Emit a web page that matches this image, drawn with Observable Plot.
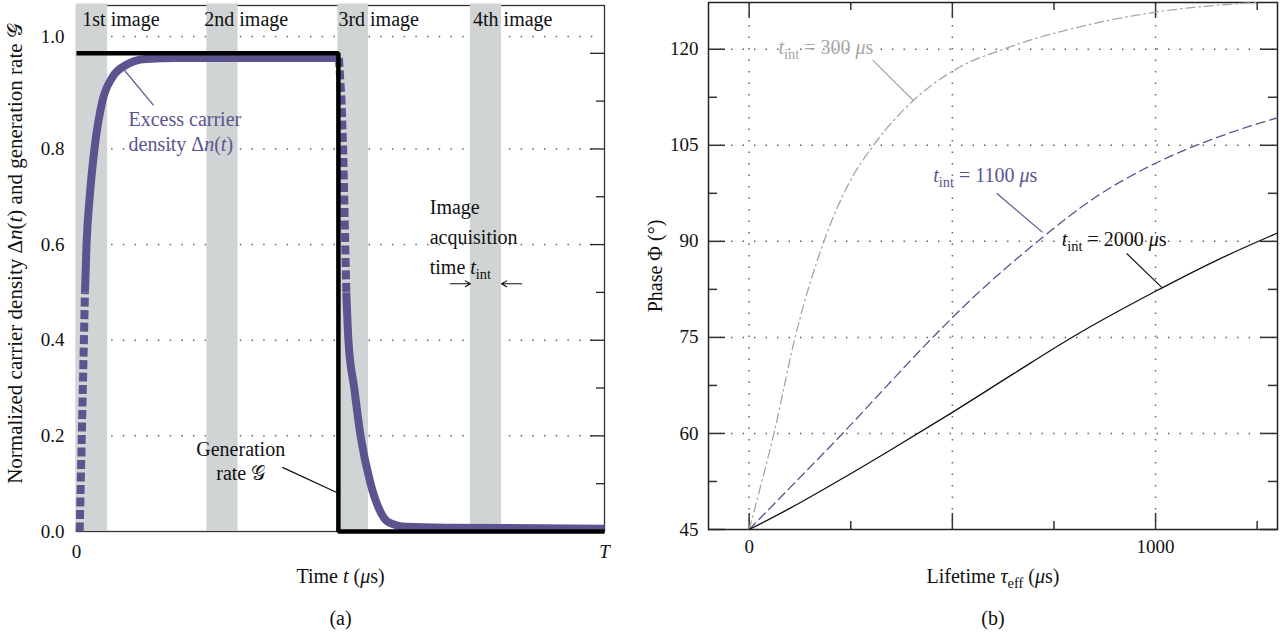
<!DOCTYPE html>
<html><head><meta charset="utf-8">
<script src="https://cdn.jsdelivr.net/npm/d3@7"></script>
<script src="https://cdn.jsdelivr.net/npm/@observablehq/plot@0.6"></script>
<style>
body{margin:0;background:#fff;width:1287px;height:642px;overflow:hidden;position:relative;}
#a{position:absolute;left:0;top:0}
#b{position:absolute;left:640px;top:0}
svg{overflow:visible}
</style></head><body>
<div id="a"></div><div id="b"></div>
<script>
// ---------- Panel (a) data ----------
const bandStart = [0, 0.247, 0.495, 0.746];
const bandEnd = [0.059, 0.306, 0.553, 0.805];
const bandLabels = ["1st image", "2nd image", "3rd image", "4th image"];
const bandLabelT = [0.011, 0.242, 0.496, 0.751];
const densT = [0.006,0.008,0.010,0.012,0.014,0.016,0.019,0.025,0.034,0.049,0.068,0.093,0.131,0.19,0.497,0.502,0.505,0.507,0.509,0.511,0.515,0.526,0.538,0.557,0.572,0.59,0.625,0.7,1.0];
const densN = [0,0.1,0.2,0.3,0.4,0.5,0.6,0.7,0.8,0.9,0.95,0.975,0.988,0.99,0.99,0.9,0.8,0.7,0.6,0.5,0.4,0.3,0.2,0.1,0.05,0.02,0.01,0.008,0.006];
const genT = [0, 0.496, 0.496, 1];
const genN = [1, 1, 0, 0];
const yDomainA = [0, 1.1];
const yTickPosA = [0, 0.2, 0.4, 0.6, 0.8, 1.035];
const yTickLabelsA = ["0.0", "0.2", "0.4", "0.6", "0.8", "1.0"];
const yGridA = [0.2, 0.4, 0.6, 0.8, 1.035];
const rightMajorA = [0.2, 0.4, 0.6, 0.8, 1.0];
const rightMinorA = [0.1, 0.3, 0.5, 0.7, 0.9];
const xTickPosA = [0, 1];
const xTickLabelsA = ["0", "*T*"];
const annTextA = ["Excess carrier\ndensity Δ*n*(*t*)", "Generation\nrate 𝒢", "Image\nacquisition\ntime *t*_{int}"];
const annTA = [0.0985, 0.311, 0.669];
const annNA = [0.838, 0.148, 0.622];
const leaderA_t1 = [0.089, 0.390], leaderA_n1 = [0.967, 0.134];
const leaderA_t2 = [0.146, 0.494], leaderA_n2 = [0.891, 0.081];
const arrowT1 = [0.708, 0.843], arrowT2 = [0.746, 0.805], arrowN = [0.518, 0.518];
const yLabelA = "Normalized carrier density Δ*n*(*t*) and generation rate 𝒢";
const xLabelA = "Time *t* (*μ*s)";
const captionA = "(a)";

// ---------- Panel (b) data ----------
const tau300 = [0, 30, 61, 113, 184, 245, 306, 404, 496, 643, 800, 1000, 1120, 1250];
const phi300 = [45, 52.2, 60, 75, 90, 99, 105, 112, 116.4, 120.4, 123.3, 125.8, 126.7, 127.3];
const tau1100 = [0, 100, 230, 340, 444, 544, 708, 850, 1000, 1150, 1300];
const phi1100 = [45, 51.5, 60, 67.5, 74.5, 80.8, 89.9, 96.8, 102.2, 106.2, 109.3];
const tau2000 = [0, 100, 225, 350, 495, 650, 797, 1000, 1149, 1300];
const phi2000 = [45, 48.3, 52.8, 57.5, 63.1, 69.3, 75.1, 82.2, 87, 91.3];
const xDomainB = [-100, 1300];
const yDomainB = [45, 127.3];
const xGridB = [0, 500, 1000];
const yGridB = [60, 75, 90, 105, 120];
const xMajorB = [0, 500, 1000], xMinorB = [250, 750, 1250];
const yMajorB = [45, 60, 75, 90, 105, 120], yMinorB = [52.5, 67.5, 82.5, 97.5, 112.5];
const yTickLabelsB = [45, 60, 75, 90, 105, 120];
const xTickLabelsB = [0, 1000];
const labTextB = ["*t*_{int} = 300 *μ*s", "*t*_{int} = 1100 *μ*s", "*t*_{int} = 2000 *μ*s"];
const labTauB = [72, 453, 769];
const labPhiB = [120.3, 100.3, 90.3];
const leadTau1 = [304, 609, 929], leadPhi1 = [118.3, 97.5, 88.1];
const leadTau2 = [404, 722, 1017], leadPhi2 = [112.0, 91.4, 82.7];
const seriesColors = ["#a6a6a6", "#5c548e", "#111111"];
const yLabelB = "Phase Φ (°)";
const xLabelB = "Lifetime *τ*_{eff} (*μ*s)";
const captionB = "(b)";

// ---------- helpers ----------
const purple = "#5c548e";
const fontFamily = '"Liberation Serif", "DejaVu Serif", serif';
function rich(root) {
  const ns = "http://www.w3.org/2000/svg";
  const walker = document.createTreeWalker(root, NodeFilter.SHOW_TEXT);
  const nodes = [];
  while (walker.nextNode()) nodes.push(walker.currentNode);
  for (const node of nodes) {
    const s = node.nodeValue;
    if (!/[*_]/.test(s)) continue;
    const re = /\*([^*]+)\*|_\{([^}]+)\}/g;
    const pieces = [];
    let last = 0, m;
    while ((m = re.exec(s))) {
      if (m.index > last) pieces.push({txt: s.slice(last, m.index)});
      if (m[1] != null) pieces.push({txt: m[1], it: true});
      else pieces.push({txt: m[2], sub: true});
      last = re.lastIndex;
    }
    if (last < s.length) pieces.push({txt: s.slice(last)});
    const frag = document.createDocumentFragment();
    let shifted = false;
    for (const p of pieces) {
      const t = document.createElementNS(ns, "tspan");
      t.textContent = p.txt;
      if (p.it) t.setAttribute("font-style", "italic");
      if (p.sub) { t.setAttribute("font-size", "0.72em"); t.setAttribute("dy", "5"); shifted = true; }
      else if (shifted) { t.setAttribute("dy", "-5"); shifted = false; }
      frag.appendChild(t);
    }
    node.parentNode.replaceChild(frag, node);
  }
}

// ---------- Panel (a) ----------
const bands = bandStart.map((s, i) => ({s, e: bandEnd[i], label: bandLabels[i], lt: bandLabelT[i]}));
const dens = densT.map((t, i) => ({t, n: densN[i]}));
const riseEnd = densN.findIndex(n => n >= 0.5);
const fallStart = densT.findIndex(t => t >= 0.497);
const fallEnd = densN.findIndex((n, i) => i > fallStart && n <= 0.5);
const gen = genT.map((t, i) => ({t, n: genN[i]}));
const annA = annTextA.map((text, i) => ({text, t: annTA[i], n: annNA[i]}));
const leadA = leaderA_t1.map((t1, i) => ({t1, n1: leaderA_n1[i], t2: leaderA_t2[i], n2: leaderA_n2[i]}));
const arrA = arrowT1.map((t1, i) => ({t1, t2: arrowT2[i], n: arrowN[i]}));
const frameWA = 640 - 76 - 36;

const plotA = Plot.plot({
  width: 640, height: 642,
  marginLeft: 76, marginRight: 36, marginTop: 5, marginBottom: 111,
  x: {domain: [0, 1]}, y: {domain: yDomainA},
  style: {fontFamily, fontSize: "20px", color: "#111", background: "transparent"},
  marks: [
    Plot.ruleY(yGridA, {y: d => d, stroke: "#666", strokeWidth: 1.5, strokeDasharray: "1.5,10.2", insetRight: 10}),
    Plot.frame({stroke: "#333", strokeWidth: 1.3}),
    Plot.rect(bands, {x1: "s", x2: "e", y1: yDomainA[0], y2: yDomainA[1], fill: "#d0d4d5", insetTop: -1.5}),
    Plot.tickY(rightMajorA, {y: d => d, stroke: "#222", strokeWidth: 1.3, insetLeft: frameWA - 14}),
    Plot.tickY(rightMinorA, {y: d => d, stroke: "#222", strokeWidth: 1.3, insetLeft: frameWA - 8}),
    Plot.text(bands, {x: "lt", y: yDomainA[1], text: "label", textAnchor: "start", dy: 14, fill: "#111"}),
    Plot.line(dens.slice(0, riseEnd + 1), {x: "t", y: "n", stroke: purple, strokeWidth: 8, strokeLinecap: "butt", strokeDasharray: "9,3.5"}),
    Plot.line(dens.slice(riseEnd, fallStart + 1), {x: "t", y: "n", stroke: purple, strokeWidth: 8, strokeLinecap: "butt", curve: "monotone-x"}),
    Plot.line(dens.slice(fallStart, fallEnd + 1), {x: "t", y: "n", stroke: purple, strokeWidth: 8, strokeLinecap: "butt", strokeDasharray: "9,3.5"}),
    Plot.line(dens.slice(fallEnd), {x: "t", y: "n", stroke: purple, strokeWidth: 8, strokeLinecap: "butt", curve: "monotone-x"}),
    Plot.line(gen, {x: "t", y: "n", stroke: "#000", strokeWidth: 4.5, strokeLinejoin: "miter", strokeLinecap: "butt"}),
    Plot.link(leadA.slice(0, 1), {x1: "t1", y1: "n1", x2: "t2", y2: "n2", stroke: purple, strokeWidth: 1.3}),
    Plot.link(leadA.slice(1), {x1: "t1", y1: "n1", x2: "t2", y2: "n2", stroke: "#111", strokeWidth: 1.3}),
    Plot.text(annA.slice(0, 1), {x: "t", y: "n", text: "text", textAnchor: "start", lineHeight: 1.25, fill: purple}),
    Plot.text(annA.slice(1, 2), {x: "t", y: "n", text: "text", textAnchor: "middle", lineHeight: 1.2, fill: "#111"}),
    Plot.text(annA.slice(2), {x: "t", y: "n", text: "text", textAnchor: "start", lineHeight: 1.5, fill: "#111"}),
    Plot.arrow(arrA, {x1: "t1", y1: "n", x2: "t2", y2: "n", stroke: "#111", strokeWidth: 1.1, headLength: 8}),
    Plot.axisY({ticks: yTickPosA, anchor: "left", tickSize: 0, tickPadding: 12, label: null, fontSize: 19,
      tickFormat: d => yTickLabelsA[yTickPosA.indexOf(d)]}),
    Plot.axisX({ticks: xTickPosA, anchor: "bottom", tickSize: 0, tickPadding: 13, label: null, fontSize: 19,
      tickFormat: d => xTickLabelsA[xTickPosA.indexOf(d)]}),
    Plot.text([yLabelA], {text: d => d, frameAnchor: "left", textAnchor: "middle", rotate: -90, dx: -61, dy: -15, fontSize: 21, fill: "#111"}),
    Plot.text([xLabelA], {text: d => d, frameAnchor: "bottom", textAnchor: "middle", dy: 51, fill: "#111"}),
    Plot.text([captionA], {text: d => d, frameAnchor: "bottom", textAnchor: "middle", dy: 93, fill: "#111"})
  ]
});
document.getElementById("a").appendChild(plotA);
rich(plotA);

// ---------- Panel (b) ----------
const curves = [
  tau300.map((x, i) => ({x, y: phi300[i]})),
  tau1100.map((x, i) => ({x, y: phi1100[i]})),
  tau2000.map((x, i) => ({x, y: phi2000[i]}))
];
const labsB = labTextB.map((text, i) => ({text, x: labTauB[i], y: labPhiB[i], c: seriesColors[i]}));
const leadsB = leadTau1.map((x1, i) => ({x1, y1: leadPhi1[i], x2: leadTau2[i], y2: leadPhi2[i], c: seriesColors[i]}));
const fwB = 647 - 68 - 10, fhB = 642 - 2 - 113;
const dot = {stroke: "#666", strokeWidth: 1.5, strokeDasharray: "1.5,10"};
const tk = {stroke: "#333", strokeWidth: 1.5};

const plotB = Plot.plot({
  width: 647, height: 642,
  marginLeft: 68, marginRight: 10, marginTop: 2, marginBottom: 113,
  x: {domain: xDomainB}, y: {domain: yDomainB},
  style: {fontFamily, fontSize: "20px", color: "#111", background: "transparent"},
  marks: [
    Plot.ruleX(xGridB, {x: d => d, ...dot}),
    Plot.ruleY(yGridB, {y: d => d, ...dot}),
    Plot.tickY(yMajorB, {y: d => d, ...tk, insetRight: fwB - 17}),
    Plot.tickY(yMinorB, {y: d => d, ...tk, insetRight: fwB - 9}),
    Plot.tickY(yMajorB, {y: d => d, ...tk, insetLeft: fwB - 17}),
    Plot.tickY(yMinorB, {y: d => d, ...tk, insetLeft: fwB - 9}),
    Plot.tickX(xMajorB, {x: d => d, ...tk, insetTop: fhB - 16}),
    Plot.tickX(xMinorB, {x: d => d, ...tk, insetTop: fhB - 8}),
    Plot.tickX(xMajorB, {x: d => d, ...tk, insetBottom: fhB - 16}),
    Plot.tickX(xMinorB, {x: d => d, ...tk, insetBottom: fhB - 8}),
    Plot.frame({stroke: "#222", strokeWidth: 1.5}),
    Plot.line(curves[0], {x: "x", y: "y", stroke: seriesColors[0], strokeWidth: 1.3, strokeDasharray: "9,4,1.5,4", curve: "monotone-x"}),
    Plot.line(curves[1], {x: "x", y: "y", stroke: seriesColors[1], strokeWidth: 1.3, strokeDasharray: "9,5", curve: "monotone-x"}),
    Plot.line(curves[2], {x: "x", y: "y", stroke: seriesColors[2], strokeWidth: 1.3, curve: "monotone-x"}),
    Plot.link(leadsB, {x1: "x1", y1: "y1", x2: "x2", y2: "y2", stroke: d => d.c, strokeWidth: 1.2}),
    Plot.text(labsB, {x: "x", y: "y", text: "text", fill: d => d.c, textAnchor: "start"}),
    Plot.axisY({ticks: yTickLabelsB, anchor: "left", tickSize: 0, tickPadding: 10, label: null, fontSize: 19, tickFormat: d => String(d)}),
    Plot.axisX({ticks: xTickLabelsB, anchor: "bottom", tickSize: 0, tickPadding: 10, label: null, fontSize: 19, tickFormat: d => String(d)}),
    Plot.text([yLabelB], {text: d => d, frameAnchor: "left", textAnchor: "middle", rotate: -90, dx: -53, fill: "#111"}),
    Plot.text([xLabelB], {text: d => d, frameAnchor: "bottom", textAnchor: "middle", dy: 53, fill: "#111"}),
    Plot.text([captionB], {text: d => d, frameAnchor: "bottom", textAnchor: "middle", dy: 95, fill: "#111"})
  ]
});
document.getElementById("b").appendChild(plotB);
rich(plotB);
</script>
</body></html>
